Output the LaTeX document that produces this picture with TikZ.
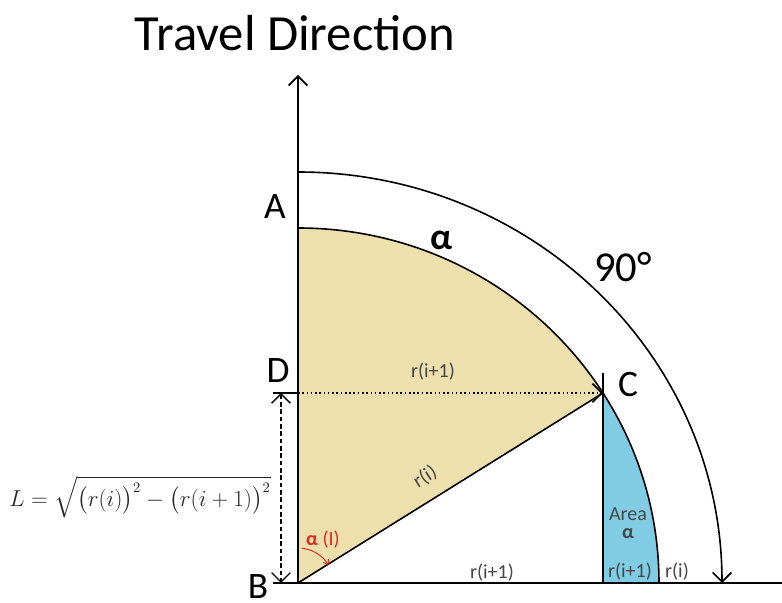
\documentclass[tikz,border=0pt]{standalone}
\usepackage{amsmath}
\usepackage{fontspec}
\setmainfont{Carlito}
\definecolor{sandfill}{RGB}{238,224,172}
\definecolor{areablue}{RGB}{128,204,228}
\definecolor{labelgray}{RGB}{70,70,70}
\definecolor{anglered}{RGB}{225,40,40}
\usetikzlibrary{arrows.meta}

\begin{document}
\begin{tikzpicture}[x=0.75pt, y=0.75pt,
				>={Straight Barb[length=7pt,width=14pt]},   %open arrow heads
				line width=1.2pt,
				lbl/.style={text=labelgray, font=\fontsize{15}{15}\selectfont, inner sep=1pt},
				corner/.style={font=\fontsize{28}{28}\selectfont, inner sep=0pt}]
				\useasboundingbox (-298,-20) rectangle (484,583);
				% Punkte
				\coordinate (B) at (0,0);
				\coordinate (A) at (0,355);
				\coordinate (D) at (0,190);
				\coordinate (C) at (305,190);
				\coordinate (E) at (305,0);
				\coordinate (O) at (0,411);
				\coordinate (T) at (0,508);
				\coordinate (Xl) at (-25,0);
				\coordinate (Xr) at (484,0);
				\coordinate (Lt) at (-17,190);
				\coordinate (Lb) at (-17,0);
				% Flaechen
				\fill[sandfill] (B) -- (A) arc[start angle=90, end angle=32.3, x radius=361, y radius=355] -- (C) -- cycle;
				\fill[areablue] (E) -- (C) arc[start angle=32.3, end angle=0, x radius=361, y radius=355] -- cycle;
				% Linien
				\draw (A) arc[start angle=90, end angle=0, x radius=361, y radius=355];
				\draw (B) -- (C);
				\draw (E) -- (C) -- ++(0,20);
				\draw[->] (B) -- (T);
				\draw (Xl) -- (Xr);
				\draw[->] (O) arc[start angle=90, end angle=0, x radius=424, y radius=411];
				\draw[dotted, ->] (D) -- (C);
				\draw[line width=0.8pt] (D) -- ++(-25,0);
				\draw[dash pattern=on 3.5pt off 2pt, line width=1pt, <->] (Lt) -- (Lb);
				\draw[anglered, line width=0.7pt, -{Straight Barb[length=3pt,width=5pt]}] (84:35) arc[start angle=84, end angle=32, radius=36];
				% Beschriftung
				\node[font=\fontsize{38}{38}\selectfont] (title) at (-3,550) {Travel Direction};
				\node[corner] (lA) at (-23,376) {A};
				\node[corner] (lD) at (-20,212) {D};
				\node[corner] (lC) at (330,198) {C};
				\node[corner] (lB) at (-40,-4) {B};
				\node[font=\fontsize{28}{28}\selectfont\bfseries] (alpha) at (144,343) {α};
				\node[font=\fontsize{32}{32}\selectfont] (deg) at (325,316) {90°};
				\node[lbl] (rtop) at (135,211) {r(i+1)};
				\node[lbl, rotate=32] (rdiag) at (127,106) {r(i)};
				\node[lbl] (rbot) at (194,10) {r(i+1)};
				\node[lbl, align=center, inner sep=0pt] (area) at (330,60) {Area\\[-2pt]\textbf{α}};
				\node[lbl] (rr1) at (332,11) {r(i+1)};
				\node[lbl] (rr2) at (379,11) {r(i)};
				\node[text=anglered, font=\fontsize{15}{15}\selectfont, inner sep=0pt] (aI) at (25,43) {\textbf{α} (I)};
				\node[text=black!85, font=\fontsize{16}{16}\selectfont] (formula) at (-158,86)
					{$L=\sqrt{\bigl(r(i)\bigr)^2-\bigl(r(i+1)\bigr)^2}$};
			\end{tikzpicture}
\end{document}
